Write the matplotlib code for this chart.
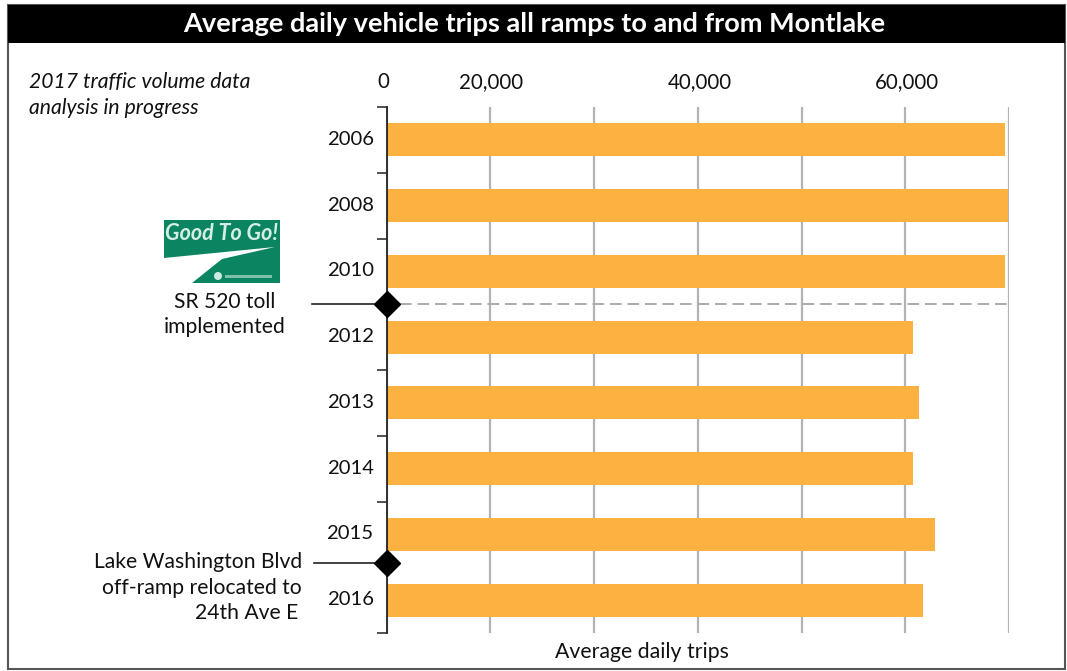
import matplotlib.pyplot as plt
from matplotlib.patches import Circle, Polygon, Rectangle
from matplotlib.transforms import ScaledTranslation

plt.rcParams["font.family"] = ["Lato", "Carlito", "Noto Sans", "DejaVu Sans"]

years = ["2006", "2008", "2010", "2012", "2013", "2014", "2015", "2016"]
trips = [69650, 69950, 69650, 60750, 61350, 60750, 62850, 61700]
grid_ticks = [10000, 20000, 30000, 40000, 50000, 60000, 70000]
tick_labels = ["0", "20,000", "", "40,000", "", "60,000", ""]

W, H = 1067, 671
fig = plt.figure(figsize=(W / 100, H / 100), dpi=100)
fig.patch.set_facecolor("white")

# pixel layer, for the frame and the notes
bg = fig.add_axes([0, 0, 1, 1], zorder=0)
bg.set_xlim(0, W)
bg.set_ylim(H, 0)
bg.axis("off")

bg.add_patch(Rectangle((8, 5), 1057, 664, fc="none", ec="#555555", lw=1.5))
bg.add_patch(Rectangle((8, 5), 1057, 38, fc="black", ec="none"))
bg.text(534.5, 24, "Average daily vehicle trips all ramps to and from Montlake",
        color="white", fontsize=19.5, fontweight="bold", ha="center", va="center")

bg.text(29, 82.5, "2017 traffic volume data", fontsize=15.2, style="italic",
        color="#111111", va="center")
bg.text(29, 108.5, "analysis in progress", fontsize=15.2, style="italic",
        color="#111111", va="center")

# Good To Go logo
bg.add_patch(Rectangle((164, 220), 116, 63, fc="#0B8462", ec="none"))
bg.add_patch(Polygon([(164, 258), (275, 247), (222, 259), (192, 283), (164, 283)],
                     fc="white", ec="none"))
bg.text(222, 234, "Good To Go!", color="#D5EEE6", fontsize=15.5, fontweight="bold",
        style="italic", ha="center", va="center")
bg.add_patch(Circle((218, 276), 4, fc="#CFE8E0", ec="none"))
bg.add_patch(Rectangle((225, 275), 47, 3, fc="#7FC0AC", ec="none"))

bg.text(224.5, 302, "SR 520 toll", fontsize=15.1, color="#111111", ha="center", va="center")
bg.text(224.5, 327, "implemented", fontsize=15.2, color="#111111", ha="center", va="center")

bg.text(302, 562, "Lake Washington Blvd", fontsize=15.2, color="#111111", ha="right", va="center")
bg.text(302, 588, "off-ramp relocated to", fontsize=15.2, color="#111111", ha="right", va="center")
bg.text(298, 613, "24th Ave E", fontsize=15.2, color="#111111", ha="right", va="center")

bg.text(642, 652, "Average daily trips", fontsize=15.3, color="#111111", ha="center", va="center")

# chart
ax = fig.add_axes([386.5 / W, (H - 633) / H, (1009 - 386.5) / W, 526 / H], zorder=1)
ax.patch.set_alpha(0)

ax.barh(years, trips, height=0.5, color="#FDB140", zorder=2)
ax.set_xlim(10000, 70000)
ax.set_ylim(7.5, -0.5)

ax.set_xticks(grid_ticks)
ax.set_xticklabels(tick_labels, fontsize=14.8, color="#111111")
ax.xaxis.tick_top()
ax.tick_params(axis="x", length=0, pad=10.5)
ax.grid(axis="x", color="#B3B3B3", lw=1.6, zorder=1)
ax.set_axisbelow(True)

# labels sit a little off the gridlines in the original
for lab, dx in zip(ax.get_xticklabels(), [-3, 1, 0, 2, 0, 2, 0]):
    lab.set_transform(lab.get_transform() + ScaledTranslation(dx / 100, 0, fig.dpi_scale_trans))

ax.set_yticks(range(len(years)))
ax.set_yticklabels(years, fontsize=14.6, color="#111111")
ax.set_yticks([-0.5, 0.5, 1.5, 3.5, 4.5, 5.5, 7.5], minor=True)
ax.tick_params(axis="y", which="major", length=0, pad=9.3)
ax.tick_params(axis="y", which="minor", length=7.5, width=1.1, color="#222222")
for lab in ax.get_yticklabels():
    lab.set_transform(lab.get_transform() + ScaledTranslation(0, 2 / 100, fig.dpi_scale_trans))

for s in ["top", "right", "bottom"]:
    ax.spines[s].set_visible(False)
ax.spines["left"].set_color("#222222")
ax.spines["left"].set_linewidth(1.3)

# toll line and markers
ax.plot([11300, 70000], [2.49, 2.49], color="#ABABAB", lw=1.4, ls=(0, (6, 3)), zorder=3)
ax.plot([2820, 10000], [2.49, 2.49], color="#222222", lw=1.2, clip_on=False, zorder=3)
ax.plot([3010, 10000], [6.43, 6.43], color="#222222", lw=1.2, clip_on=False, zorder=3)
ax.plot([10000, 10000], [2.49, 6.43], ls="none", marker="D", ms=13.5, color="black",
        clip_on=False, zorder=4)

plt.savefig("out.png", dpi=100)
